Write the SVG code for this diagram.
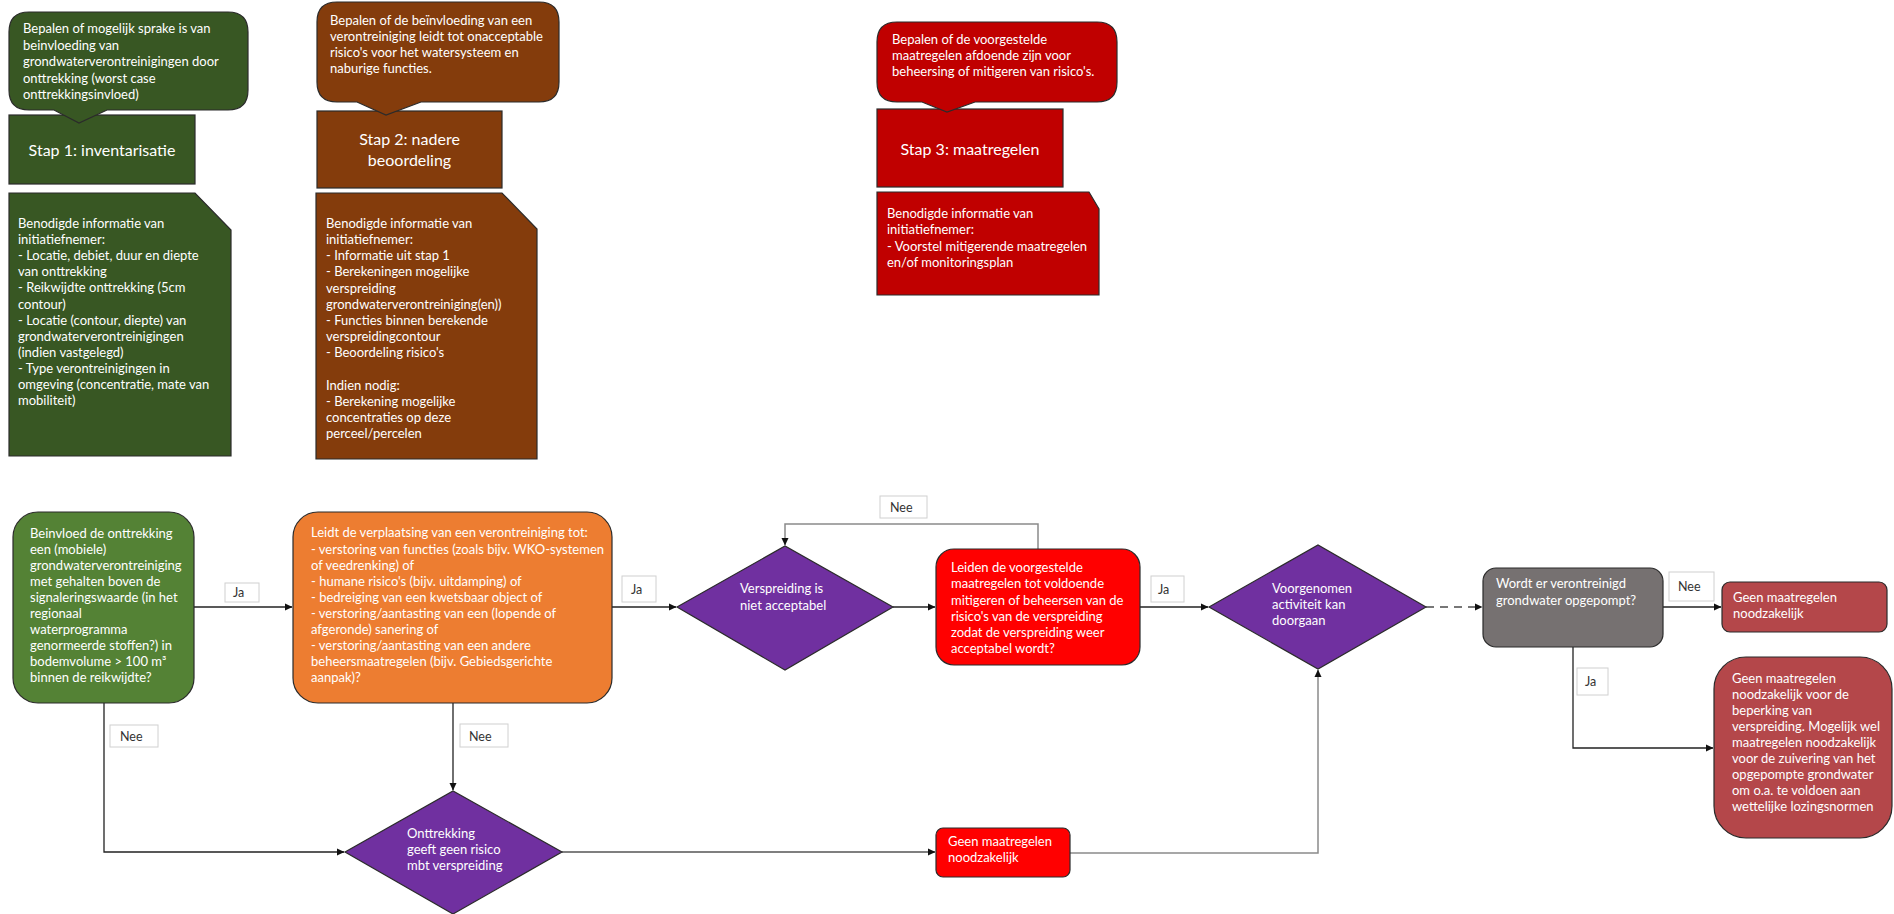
<svg xmlns="http://www.w3.org/2000/svg" width="1894" height="914" viewBox="0 0 1894 914">
<defs>
<style>
text{font-family:Lato,"Liberation Sans",sans-serif;font-size:13px;fill:#fff}
.lbl{fill:#333;font-size:12.5px}
.stap{font-size:16px}
.box{stroke:#2b2b2b;stroke-width:1.2}
.lb{fill:#fff;stroke:#d0d0d0;stroke-width:1}
.c{fill:none;stroke:#222;stroke-width:1.3}
.cg{fill:none;stroke:#8a8a8a;stroke-width:1.5}
</style>
<marker id="ah" markerWidth="8" markerHeight="8" refX="7" refY="4" orient="auto" markerUnits="userSpaceOnUse">
<path d="M0,0.5 L7.5,4 L0,7.5 Z" fill="#111"/>
</marker>
</defs>
<rect width="1894" height="914" fill="#fff"/>

<g id="stap1">
<rect class="box" x="9" y="115" width="186" height="69" fill="#385723"/>
<text class="stap" x="102" y="156" text-anchor="middle">Stap 1: inventarisatie</text>
</g>
<g id="callout1">
<path class="box" fill="#385723" d="M29,12 H228 Q248,12 248,32 V90 Q248,110 228,110 H107 L79,123 L54,110 H29 Q9,110 9,90 V32 Q9,12 29,12 Z"/>
<text x="23"><tspan x="23" y="33">Bepalen of mogelijk sprake is van</tspan><tspan x="23" y="49.5">beinvloeding van</tspan><tspan x="23" y="66">grondwaterverontreinigingen door</tspan><tspan x="23" y="82.5">onttrekking (worst case</tspan><tspan x="23" y="99">onttrekkingsinvloed)</tspan></text>
</g>
<g id="note1">
<path class="box" fill="#385723" d="M9,193 H195 L231,230 V456 H9 Z"/>
<text><tspan x="18" y="228">Benodigde informatie van</tspan><tspan x="18" y="244.1">initiatiefnemer:</tspan><tspan x="18" y="260.2">- Locatie, debiet, duur en diepte</tspan><tspan x="18" y="276.3">van onttrekking</tspan><tspan x="18" y="292.4">- Reikwijdte onttrekking (5cm</tspan><tspan x="18" y="308.5">contour)</tspan><tspan x="18" y="324.6">- Locatie (contour, diepte) van</tspan><tspan x="18" y="340.7">grondwaterverontreinigingen</tspan><tspan x="18" y="356.8">(indien vastgelegd)</tspan><tspan x="18" y="372.9">- Type verontreinigingen in</tspan><tspan x="18" y="389">omgeving (concentratie, mate van</tspan><tspan x="18" y="405.1">mobiliteit)</tspan></text>
</g>

<g id="stap2">
<rect class="box" x="317" y="111" width="185" height="77" fill="#843C0C"/>
<text class="stap" x="409.5" y="145" text-anchor="middle">Stap 2: nadere</text>
<text class="stap" x="409.5" y="166" text-anchor="middle">beoordeling</text>
</g>
<g id="callout2">
<path class="box" fill="#843C0C" d="M337,2 H539 Q559,2 559,22 V82 Q559,102 539,102 H421 L386,115 L357,102 H337 Q317,102 317,82 V22 Q317,2 337,2 Z"/>
<text><tspan x="330" y="25">Bepalen of de beïnvloeding van een</tspan><tspan x="330" y="41">verontreiniging leidt tot onacceptable</tspan><tspan x="330" y="57">risico's voor het watersysteem en</tspan><tspan x="330" y="73">naburige functies.</tspan></text>
</g>
<g id="note2">
<path class="box" fill="#843C0C" d="M316,193 H502 L537,229 V459 H316 Z"/>
<text><tspan x="326" y="228">Benodigde informatie van</tspan><tspan x="326" y="244.15">initiatiefnemer:</tspan><tspan x="326" y="260.3">- Informatie uit stap 1</tspan><tspan x="326" y="276.45">- Berekeningen mogelijke</tspan><tspan x="326" y="292.6">verspreiding</tspan><tspan x="326" y="308.75">grondwaterverontreiniging(en))</tspan><tspan x="326" y="324.9">- Functies binnen berekende</tspan><tspan x="326" y="341.05">verspreidingcontour</tspan><tspan x="326" y="357.2">- Beoordeling risico's</tspan><tspan x="326" y="389.5">Indien nodig:</tspan><tspan x="326" y="405.65">- Berekening mogelijke</tspan><tspan x="326" y="421.8">concentraties op deze</tspan><tspan x="326" y="437.95">perceel/percelen</tspan></text>
</g>

<g id="stap3">
<rect class="box" x="877" y="109" width="186" height="78" fill="#C00000"/>
<text class="stap" x="970" y="155" text-anchor="middle">Stap 3: maatregelen</text>
</g>
<g id="callout3">
<path class="box" fill="#C00000" d="M897,22 H1097 Q1117,22 1117,42 V82 Q1117,102 1097,102 H975 L947,112 L922,102 H897 Q877,102 877,82 V42 Q877,22 897,22 Z"/>
<text><tspan x="892" y="44">Bepalen of de voorgestelde</tspan><tspan x="892" y="60">maatregelen afdoende zijn voor</tspan><tspan x="892" y="76">beheersing of mitigeren van risico's.</tspan></text>
</g>
<g id="note3">
<path class="box" fill="#C00000" d="M877,192 H1089 L1099,209 V295 H877 Z"/>
<text><tspan x="887" y="218">Benodigde informatie van</tspan><tspan x="887" y="234.3">initiatiefnemer:</tspan><tspan x="887" y="250.6">- Voorstel mitigerende maatregelen</tspan><tspan x="887" y="266.9">en/of monitoringsplan</tspan></text>
</g>

<g id="connectors">
<path class="c" d="M194,607 H292" marker-end="url(#ah)"/>
<path class="c" d="M104,703 V852 H344" marker-end="url(#ah)"/>
<path class="c" d="M612,607 H676" marker-end="url(#ah)"/>
<path class="c" d="M453,703 V790" marker-end="url(#ah)"/>
<path class="c" d="M893,607 H935" marker-end="url(#ah)"/>
<path class="cg" d="M1038,549 V524 H785 V545" marker-end="url(#ah)"/>
<path class="c" d="M1140,607 H1208" marker-end="url(#ah)"/>
<path class="c" style="stroke:#555" d="M562,852 H935" marker-end="url(#ah)"/>
<path class="cg" d="M1070,853 H1318 V670" marker-end="url(#ah)"/>
<path class="cg" style="stroke:#777;stroke-width:2;stroke-dasharray:8 6" d="M1426,607 H1482" marker-end="url(#ah)"/>
<path class="c" d="M1663,607 H1721" marker-end="url(#ah)"/>
<path class="c" d="M1573,647 V748 H1713" marker-end="url(#ah)"/>
</g>

<g id="labels">
<rect class="lb" x="225" y="583" width="34" height="19"/><text class="lbl" x="233" y="597">Ja</text>
<rect class="lb" x="110" y="725" width="48" height="22"/><text class="lbl" x="120" y="741">Nee</text>
<rect class="lb" x="622" y="576" width="34" height="26"/><text class="lbl" x="631" y="594">Ja</text>
<rect class="lb" x="460" y="724" width="48" height="23"/><text class="lbl" x="469" y="741">Nee</text>
<rect class="lb" x="880" y="496" width="47" height="22"/><text class="lbl" x="890" y="512">Nee</text>
<rect class="lb" x="1151" y="576" width="33" height="26"/><text class="lbl" x="1158" y="594">Ja</text>
<rect class="lb" x="1669" y="572" width="45" height="29"/><text class="lbl" x="1678" y="591">Nee</text>
<rect class="lb" x="1577" y="668" width="31" height="27"/><text class="lbl" x="1585" y="686">Ja</text>
</g>

<g id="q1">
<rect class="box" x="13" y="512" width="181" height="191" rx="25" fill="#548235"/>
<text><tspan x="30" y="538">Beinvloed de onttrekking</tspan><tspan x="30" y="554">een  (mobiele)</tspan><tspan x="30" y="570">grondwaterverontreiniging</tspan><tspan x="30" y="586">met gehalten boven de</tspan><tspan x="30" y="602">signaleringswaarde (in het</tspan><tspan x="30" y="618">regionaal</tspan><tspan x="30" y="634">waterprogramma</tspan><tspan x="30" y="650">genormeerde stoffen?)  in</tspan><tspan x="30" y="666">bodemvolume &gt; 100 m³</tspan><tspan x="30" y="682">binnen de reikwijdte?</tspan></text>
</g>
<g id="q2">
<rect class="box" x="293" y="512" width="319" height="191" rx="25" fill="#ED7D31"/>
<text><tspan x="311" y="537">Leidt de verplaatsing van een verontreiniging tot:</tspan><tspan x="311" y="553.5">- verstoring van functies (zoals bijv. WKO-systemen</tspan><tspan x="311" y="569.5">of veedrenking)  of</tspan><tspan x="311" y="585.5">- humane risico's (bijv. uitdamping) of</tspan><tspan x="311" y="601.5">- bedreiging van een kwetsbaar object of</tspan><tspan x="311" y="617.5">- verstoring/aantasting van een (lopende of</tspan><tspan x="311" y="633.5">afgeronde) sanering of</tspan><tspan x="311" y="649.5">- verstoring/aantasting van een andere</tspan><tspan x="311" y="665.5">beheersmaatregelen  (bijv. Gebiedsgerichte</tspan><tspan x="311" y="681.5">aanpak)?</tspan></text>
</g>
<g id="d1">
<path class="box" fill="#7030A0" d="M677,607 L785,546 L893,607 L785,670 Z"/>
<text><tspan x="740" y="593">Verspreiding is</tspan><tspan x="740" y="610">niet acceptabel</tspan></text>
</g>
<g id="q3">
<rect class="box" x="936" y="549" width="204" height="116" rx="18" fill="#FF0000"/>
<text><tspan x="951" y="572">Leiden de voorgestelde</tspan><tspan x="951" y="588">maatregelen tot voldoende</tspan><tspan x="951" y="604.5">mitigeren of beheersen van de</tspan><tspan x="951" y="620.5">risico's van de verspreiding</tspan><tspan x="951" y="636.5">zodat de verspreiding weer</tspan><tspan x="951" y="652.5">acceptabel wordt?</tspan></text>
</g>
<g id="d2">
<path class="box" fill="#7030A0" d="M1209,607 L1318,545 L1426,607 L1318,669 Z"/>
<text><tspan x="1272" y="593">Voorgenomen</tspan><tspan x="1272" y="609">activiteit kan</tspan><tspan x="1272" y="625">doorgaan</tspan></text>
</g>
<g id="d3">
<path class="box" fill="#7030A0" d="M345,852 L453,791 L562,852 L453,914 Z"/>
<text><tspan x="407" y="838">Onttrekking</tspan><tspan x="407" y="854">geeft geen risico</tspan><tspan x="407" y="870">mbt verspreiding</tspan></text>
</g>
<g id="r3">
<rect class="box" x="936" y="828" width="134" height="49" rx="7" fill="#FF0000"/>
<text><tspan x="948" y="846">Geen maatregelen</tspan><tspan x="948" y="862">noodzakelijk</tspan></text>
</g>
<g id="q4">
<rect class="box" x="1483" y="568" width="180" height="79" rx="13" fill="#767171"/>
<text><tspan x="1496" y="588">Wordt er verontreinigd</tspan><tspan x="1496" y="605">grondwater opgepompt?</tspan></text>
</g>
<g id="r4">
<rect class="box" x="1722" y="582" width="165" height="50" rx="8" fill="#B4474A"/>
<text><tspan x="1733" y="602">Geen maatregelen</tspan><tspan x="1733" y="618">noodzakelijk</tspan></text>
</g>
<g id="r5">
<rect class="box" x="1714" y="657" width="178" height="181" rx="32" fill="#B4474A"/>
<text><tspan x="1732" y="683">Geen maatregelen</tspan><tspan x="1732" y="699">noodzakelijk voor de</tspan><tspan x="1732" y="715">beperking van</tspan><tspan x="1732" y="731">verspreiding. Mogelijk wel</tspan><tspan x="1732" y="747">maatregelen noodzakelijk</tspan><tspan x="1732" y="763">voor de zuivering van het</tspan><tspan x="1732" y="779">opgepompte grondwater</tspan><tspan x="1732" y="795">om o.a. te voldoen aan</tspan><tspan x="1732" y="811">wettelijke lozingsnormen</tspan></text>
</g>
</svg>
